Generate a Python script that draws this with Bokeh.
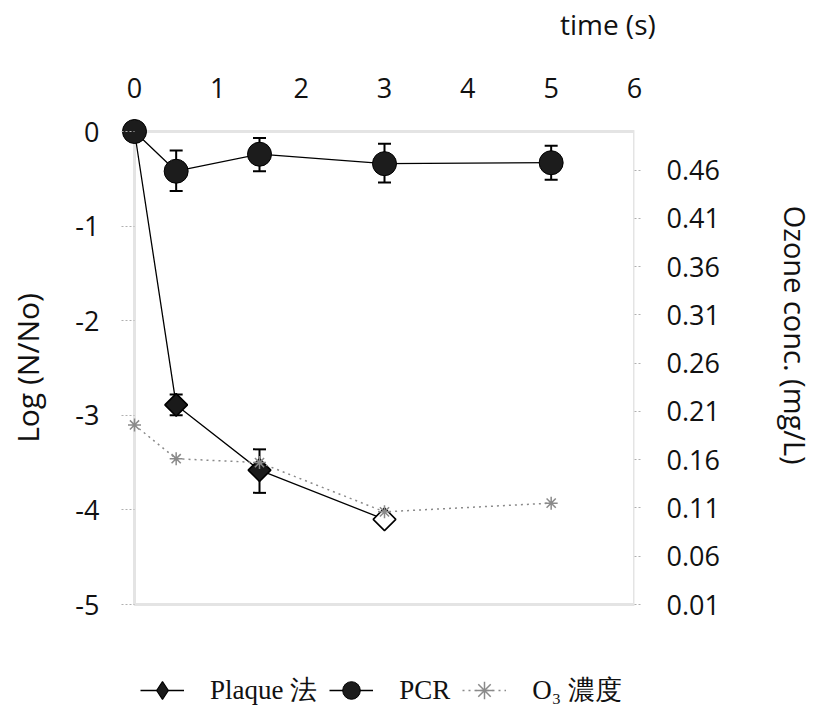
import math
from bokeh.plotting import figure
from bokeh.models import (Range1d, LinearAxis, FixedTicker, NumeralTickFormatter, Whisker,
                          TeeHead, ColumnDataSource, Legend, LegendItem, BoxAnnotation)
from bokeh.embed import file_html
from bokeh.resources import INLINE

# ---------------- data ----------------
x_ticks = [0, 1, 2, 3, 4, 5, 6]
y_ticks = [0, -1, -2, -3, -4, -5]
y_tick_labels = ["0", "-1", "-2", "-3", "-4", "-5"]
oz_ticks = [0.01, 0.06, 0.11, 0.16, 0.21, 0.26, 0.31, 0.36, 0.41, 0.46]
oz_min, oz_max = 0.01, 0.50

pcr_time = [0, 0.5, 1.5, 3, 5]
pcr_log = [0, -0.42, -0.24, -0.34, -0.33]
pcr_err_time = [0.5, 1.5, 3, 5]
pcr_upper = [-0.20, -0.07, -0.13, -0.15]
pcr_lower = [-0.63, -0.42, -0.54, -0.51]

plaque_time = [0, 0.5, 1.5, 3]
plaque_log = [0, -2.89, -3.58, -4.10]
plaque_open = [False, False, False, True]
plaque_err_time = [0.5, 1.5]
plaque_upper = [-2.78, -3.36]
plaque_lower = [-3.00, -3.82]

o3_time = [0, 0.5, 1.5, 3, 5]
o3_conc = [0.196, 0.161, 0.157, 0.106, 0.115]

# axis-title anchors (axis units)
time_title_x = 5.68
log_title_y = -2.5
oz_title_y = 0.289

# ---------------- layout ----------------
BOX_W, BOX_H = 500, 473       # drawn plot box in px
PAD = 13                      # room for markers on the left / top edge
LEG_H = 108                   # frame strip below the box that holds the legend
y_span = y_ticks[0] - y_ticks[-1]
pad_x = PAD * (x_ticks[-1] - x_ticks[0]) / BOX_W
pad_y = PAD * y_span / BOX_H
pad_bot = LEG_H * y_span / BOX_H
oz_per_y = (oz_max - oz_min) / y_span

AX_FONT = "Open Sans"
TXT = "#111111"
TICK_GREY = "#b0b0b0"

p = figure(frame_width=BOX_W + PAD, frame_height=BOX_H + PAD + LEG_H,
           x_range=Range1d(x_ticks[0] - pad_x, x_ticks[-1]),
           y_range=Range1d(y_ticks[-1] - pad_bot, y_ticks[0] + pad_y),
           x_axis_location="above", output_backend="svg", toolbar_location=None,
           min_border_left=121, min_border_right=180, min_border_top=118, min_border_bottom=4)
p.extra_y_ranges = {"oz": Range1d(oz_min - pad_bot * oz_per_y, oz_max + pad_y * oz_per_y)}
p.outline_line_color = None
p.xgrid.visible = False
p.ygrid.visible = False
p.background_fill_color = "white"
p.border_fill_color = "white"


def plain(axis):
    axis.axis_line_color = None
    axis.major_tick_line_color = None
    axis.minor_tick_line_color = None
    axis.major_label_text_font = AX_FONT
    axis.major_label_text_color = TXT


# plot-area box
box = BoxAnnotation(left=x_ticks[0], right=x_ticks[-1], bottom=y_ticks[-1], top=y_ticks[0],
                    fill_alpha=0, line_color="#a6a6a6", line_width=3, level="underlay")
p.add_layout(box)

# top axis
xa = p.xaxis[0]
xa.ticker = FixedTicker(ticks=x_ticks)
plain(xa)
xa.major_label_text_font_size = "27px"
xa.major_label_standoff = 15

# "time (s)": single label of an outer top axis
ta = LinearAxis(ticker=FixedTicker(ticks=[time_title_x]),
                major_label_overrides={time_title_x: "time (s)"})
plain(ta)
ta.major_label_text_font_size = "28px"
ta.major_label_standoff = 26
p.add_layout(ta, "above")

# left axis
ya = p.yaxis[0]
ya.ticker = FixedTicker(ticks=y_ticks)
ya.major_label_overrides = {t: s for t, s in zip(y_ticks, y_tick_labels)}
plain(ya)
ya.major_tick_in = PAD
ya.major_tick_out = 0
ya.major_tick_line_color = TICK_GREY
ya.major_tick_line_dash = "2 2"
ya.major_label_text_font_size = "27px"
ya.major_label_standoff = 22

# "Log (N/No)": single rotated label of an outer left axis
la = LinearAxis(ticker=FixedTicker(ticks=[log_title_y]),
                major_label_overrides={log_title_y: "Log (N/No)"},
                major_label_orientation="vertical")
plain(la)
la.major_label_text_font_size = "30px"
la.major_label_standoff = 19
p.add_layout(la, "left")

# right axis
ra = LinearAxis(y_range_name="oz", ticker=FixedTicker(ticks=oz_ticks),
                formatter=NumeralTickFormatter(format="0.00"))
plain(ra)
ra.major_tick_in = 0
ra.major_tick_out = 6
ra.major_tick_line_color = TICK_GREY
ra.major_tick_line_dash = "2 2"
ra.major_label_text_font_size = "27px"
ra.major_label_standoff = 26
p.add_layout(ra, "right")

# "Ozone conc. (mg/L)": single rotated label of an outer right axis
oa = LinearAxis(y_range_name="oz", ticker=FixedTicker(ticks=[oz_title_y]),
                major_label_overrides={oz_title_y: "Ozone conc. (mg/L)"},
                major_label_orientation="vertical")
plain(oa)
oa.major_label_text_font_size = "29px"
oa.major_label_standoff = 47
p.add_layout(oa, "right")

# ---------------- series ----------------
plaque_line = p.line(plaque_time, plaque_log, line_color="black", line_width=1.3)
pcr_line = p.line(pcr_time, pcr_log, line_color="black", line_width=1.3)

head = dict(size=13, line_width=2, line_color="black")
pcr_src = ColumnDataSource(dict(base=pcr_err_time, upper=pcr_upper, lower=pcr_lower))
p.add_layout(Whisker(source=pcr_src, base="base", upper="upper", lower="lower", dimension="height",
                     line_color="black", line_width=2,
                     upper_head=TeeHead(**head), lower_head=TeeHead(**head)))
pl_src = ColumnDataSource(dict(base=plaque_err_time, upper=plaque_upper, lower=plaque_lower))
p.add_layout(Whisker(source=pl_src, base="base", upper="upper", lower="lower", dimension="height",
                     line_color="black", line_width=2,
                     upper_head=TeeHead(**head), lower_head=TeeHead(**head)))

# diamond swatch used by the legend; hidden under the plotted (rotated-square) diamonds
plaque_key = p.scatter(plaque_time, plaque_log, marker="diamond", size=18,
                       fill_color="#1a1a1a", line_color="black", line_width=1.2)
plaque_fill = ["white" if o else "#1a1a1a" for o in plaque_open]
plaque_pts = p.scatter(plaque_time, plaque_log, marker="square", angle=math.pi / 4, size=16,
                       fill_color=plaque_fill, line_color="black", line_width=1.6)
pcr_pts = p.scatter(pcr_time, pcr_log, marker="circle", size=24,
                    fill_color="#1c1c1c", line_color="black", line_width=1)

o3_line = p.line(o3_time, o3_conc, y_range_name="oz", line_color="#8a8a8a",
                 line_width=1.5, line_dash="2 4")
o3_pts = p.scatter(o3_time, o3_conc, y_range_name="oz", marker="asterisk", size=13,
                   line_color="#8a8a8a", line_width=1.5)

# legend in the frame strip under the box
legend = Legend(items=[LegendItem(label="Plaque 法", renderers=[plaque_line, plaque_key]),
                       LegendItem(label="PCR", renderers=[pcr_line, pcr_pts]),
                       LegendItem(label="O₃ 濃度", renderers=[o3_line, o3_pts])],
                orientation="horizontal", location=(19, -1))
legend.border_line_color = None
legend.background_fill_alpha = 0
legend.padding = 0
legend.margin = 0
legend.spacing = 12
legend.glyph_width = 44
legend.glyph_height = 46
legend.label_standoff = 26
legend.label_text_font = "Liberation Serif"
legend.label_text_font_size = "27px"
legend.label_text_color = TXT
p.add_layout(legend)

open("out.html", "w").write(file_html(p, INLINE))
